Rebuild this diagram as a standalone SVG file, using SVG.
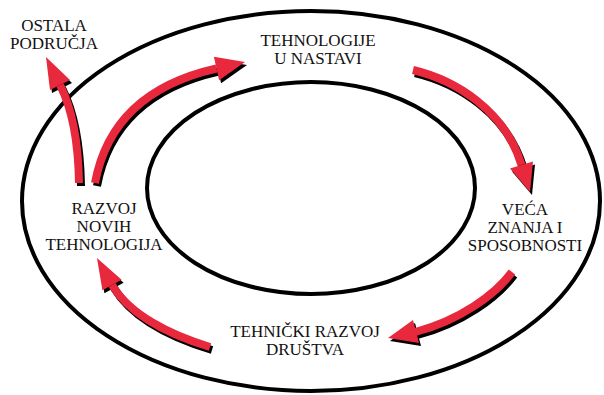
<svg xmlns="http://www.w3.org/2000/svg" width="604" height="395" viewBox="0 0 604 395">
<style>
.ring{fill:none;stroke:#000;stroke-width:4}
.lbl{font-family:"Liberation Serif","Times New Roman","DejaVu Serif",serif;font-size:17px;fill:#111;text-anchor:middle}
.shaft{fill:none;stroke-width:8;stroke-linecap:butt}
.head{stroke:none}
.red{fill:#e8283c;stroke:#e8283c}
.shadow{fill:#000;stroke:#000}
</style>
<defs>
<g id="a1"><path class="shaft" d="M79,183 Q78,120 60,85"/><polygon class="head" points="70,80 46,57 50,90"/></g>
<g id="a2"><path class="shaft" d="M95,183 Q112,92 216.5,68.5"/><polygon class="head" points="213.9,56.8 245,62 219.1,80.2"/></g>
<g id="a3"><path class="shaft" d="M413,70 C455,80 505,110 521.5,165"/><polygon class="head" points="510,168.6 530,192 533,161.4"/></g>
<g id="a4"><path class="shaft" d="M512,272 C495,295 460,320 415.5,332"/><polygon class="head" points="413,320 388,338 419,343"/></g>
<g id="a5"><path class="shaft" d="M210,347 C170,335 130,315 112,285"/><polygon class="head" points="121.6,279.7 97,258 102.4,290.3"/></g>
</defs>
<g id="rings">
<ellipse class="ring" cx="311" cy="201" rx="289" ry="190"/>
<ellipse class="ring" cx="311" cy="188" rx="164" ry="106"/>
</g>
<g id="connectors">
<g class="shadow" transform="translate(2,3)">
<use href="#a1"/><use href="#a2"/><use href="#a3"/><use href="#a4"/><use href="#a5"/>
</g>
<g class="red">
<use href="#a1"/><use href="#a2"/><use href="#a3"/><use href="#a4"/><use href="#a5"/>
</g>
</g>
<g id="n-ostala"><text class="lbl" x="54" y="31">OSTALA</text><text class="lbl" x="54" y="49">PODRUČJA</text></g>
<g id="n-tehnologije"><text class="lbl" x="318" y="46">TEHNOLOGIJE</text><text class="lbl" x="318" y="64">U NASTAVI</text></g>
<g id="n-razvoj"><text class="lbl" x="104" y="214">RAZVOJ</text><text class="lbl" x="104" y="232">NOVIH</text><text class="lbl" x="104" y="250">TEHNOLOGIJA</text></g>
<g id="n-veca"><text class="lbl" x="525" y="215">VEĆA</text><text class="lbl" x="525" y="233">ZNANJA I</text><text class="lbl" x="525" y="251">SPOSOBNOSTI</text></g>
<g id="n-drustva"><text class="lbl" x="305" y="337">TEHNIČKI RAZVOJ</text><text class="lbl" x="305" y="355">DRUŠTVA</text></g>
</svg>
